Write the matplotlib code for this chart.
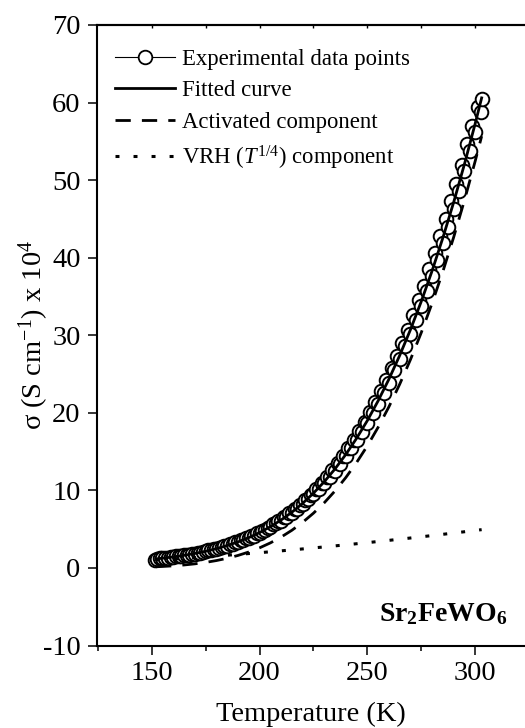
import matplotlib
matplotlib.use('Agg')
import matplotlib.pyplot as plt
from matplotlib.ticker import MultipleLocator
from matplotlib.lines import Line2D

plt.rcParams['font.family'] = ['Liberation Serif', 'DejaVu Serif']
plt.rcParams['mathtext.fontset'] = 'custom'
plt.rcParams['mathtext.rm'] = 'Liberation Serif'
plt.rcParams['mathtext.it'] = 'Liberation Serif:italic'
plt.rcParams['mathtext.bf'] = 'Liberation Serif:bold'
plt.rcParams['axes.unicode_minus'] = False

# ---------------- data ----------------
T_exp = [151.5, 152.5, 153.75, 155, 156.25, 157.5, 158.75, 160, 161.25, 162.5,
         163.75, 165, 166.25, 167.5, 168.75, 170, 171.25, 172.5, 173.75, 175,
         176.25, 177.5, 178.75, 180, 181.25, 182.5, 183.75, 185, 186.25, 187.5,
         188.75, 190, 191.25, 192.5, 193.75, 195, 196.25, 197.5, 198.75, 200,
         201.25, 202.5, 203.75, 205, 206.25, 207.5, 208.75, 210, 211.25, 212.5,
         213.75, 215, 216.25, 217.5, 218.75, 220, 221.25, 222.5, 223.75, 225,
         226.25, 227.5, 228.75, 230, 231.25, 232.5, 233.75, 235, 236.25, 237.5,
         238.75, 240, 241.25, 242.5, 243.75, 245, 246.25, 247.5, 248.75,
         250, 251.25, 252.5, 253.75, 255, 256.25, 257.5,
         258.75, 260, 261.25, 262.5, 263.75, 265, 266.25, 267.5, 268.75, 270,
         271.25, 272.5, 273.75, 275, 276.25, 277.5, 278.75, 280, 281.25, 282.5,
         283.75, 285, 286.25, 287.5, 288.75, 290, 291.25, 292.5, 293.75, 295,
         296.25, 297.5, 298.75, 300, 301.25, 302.5, 303.0]
s_exp = [1.02, 1.15, 1.23, 1.22, 1.31, 1.33, 1.40, 1.40, 1.49, 1.50,
         1.59, 1.61, 1.70, 1.72, 1.82, 1.85, 1.96, 1.98, 2.10, 2.13,
         2.26, 2.29, 2.44, 2.46, 2.62, 2.65, 2.83, 2.86, 3.05, 3.08,
         3.28, 3.32, 3.55, 3.58, 3.82, 3.86, 4.13, 4.17, 4.46, 4.50,
         4.82, 4.86, 5.20, 5.24, 5.62, 5.85, 6.05, 6.10, 6.53, 6.58,
         7.03, 7.08, 7.58, 7.62, 8.15, 8.20, 8.80, 8.85, 9.45, 9.50,
         10.20, 10.20, 10.95, 10.95, 11.75, 11.75, 12.60, 12.55, 13.50, 13.45,
         14.45, 14.40, 15.45, 15.40, 16.50, 16.45, 17.60, 17.55, 18.80,
         18.70, 20.10, 20.00, 21.40, 21.10, 22.80, 22.60,
         24.20, 23.90, 25.80, 25.50, 27.30, 27.00, 29.00, 28.60, 30.70, 30.20,
         32.60, 32.00, 34.50, 33.80, 36.40, 35.70, 38.50, 37.60, 40.60, 39.70,
         42.80, 41.90, 45.00, 44.00, 47.30, 46.30, 49.50, 48.60, 52.00, 51.20,
         54.60, 53.70, 57.00, 56.20, 59.40, 58.80, 60.40]

T_fit = [152, 155, 160, 165, 170, 175, 180, 185, 190, 195, 200, 205, 210, 215,
         220, 225, 230, 235, 240, 245, 250, 255, 260, 265, 270, 275, 280, 285,
         290, 295, 300, 303]
s_act = [0.150, 0.189, 0.272, 0.382, 0.528, 0.714, 0.951, 1.247, 1.610, 2.054,
         2.589, 3.225, 3.978, 4.857, 5.88, 7.06, 8.40, 9.93, 11.65, 13.59, 15.74,
         18.14, 20.78, 23.69, 26.87, 30.34, 34.12, 38.21, 42.62, 47.37, 52.45, 55.66]
s_vrh = [1.015, 1.065, 1.152, 1.243, 1.337, 1.434, 1.534, 1.638, 1.745, 1.855,
         1.967, 2.084, 2.203, 2.325, 2.451, 2.579, 2.710, 2.844, 2.981, 3.120,
         3.263, 3.408, 3.556, 3.707, 3.860, 4.016, 4.174, 4.335, 4.499, 4.665,
         4.833, 4.936]
s_fit = [1.165, 1.254, 1.424, 1.625, 1.865, 2.148, 2.485, 2.885, 3.355, 3.909,
         4.556, 5.309, 6.181, 7.182, 8.33, 9.64, 11.11, 12.77, 14.63, 16.71, 19.00,
         21.55, 24.34, 27.40, 30.73, 34.36, 38.29, 42.55, 47.12, 52.04, 57.28, 60.60]

labels = ["Experimental data points", "Fitted curve", "Activated component",
          r"VRH ($T^{1/4}$) component"]
x_ticks = [150, 200, 250, 300]
y_ticks = [-10, 0, 10, 20, 30, 40, 50, 60, 70]

# ---------------- figure ----------------
fig = plt.figure(figsize=(5.25, 7.28), dpi=100)
L = 96.5 / 525
B = 1 - 645.5 / 728
H = 620.5 / 728
ax = fig.add_axes([L, B, 1 - L, H])

ax.plot(T_exp, s_exp, linestyle='none', marker='o', ms=9.8, mfc='white',
        mec='black', mew=1.4, zorder=3)
ax.plot(T_fit, s_fit, color='black', lw=2.0, zorder=5)
ax.plot(T_fit, s_act, color='black', lw=2.0, ls=(0, (5.5, 4)), zorder=4)
ax.plot(T_fit, s_vrh, color='black', lw=2.2, ls=(0, (1.3, 4.6)), zorder=4)

ax.set_xlim(124.4, 323.1)
ax.set_ylim(-10, 70)
ax.set_xticks(x_ticks)
ax.set_yticks(y_ticks)
ax.xaxis.set_minor_locator(MultipleLocator(25))
ax.tick_params(axis='both', which='major', direction='out', length=6.5,
               width=1.1, labelsize=20.5, pad=5)
ax.tick_params(axis='x', which='minor', direction='out', length=3.5, width=1.1)
for s in ['left', 'bottom', 'top']:
    ax.spines[s].set_linewidth(1.5)
ax.spines['right'].set_visible(False)

sec = ax.secondary_xaxis('top')
sec.set_xticks([150, 175, 200, 225, 250, 275, 300])
sec.tick_params(direction='in', length=2, width=1, labeltop=False)
sec.spines['top'].set_linewidth(1.5)

ax.set_xlabel("Temperature (K)", fontsize=20.5, labelpad=11)
ax.set_ylabel(r"σ (S cm$^{-1}$) x 10$^{4}$", fontsize=20.5)
ax.yaxis.set_label_coords((51 - 96.5) / 428.5, 0.5)

handles = [
    Line2D([], [], color='black', lw=0.8, marker='o', ms=9.8, mfc='white',
           mec='black', mew=1.3),
    Line2D([], [], color='black', lw=2.0),
    Line2D([], [], color='black', lw=2.0, ls=(0, (5.5, 4))),
    Line2D([], [], color='black', lw=2.2, ls=(0, (1.3, 4.6))),
]
ax.legend(handles, labels, loc='upper left',
          bbox_to_anchor=((115 - 96.5) / 428.5, 0.9615), borderpad=0,
          borderaxespad=0, frameon=False, fontsize=16.4, handlelength=2.65,
          handletextpad=0.3, labelspacing=0.46, numpoints=1)

ax.text(0.958, 0.04, r'$\mathbf{Sr_2FeWO_6}$', transform=ax.transAxes,
        ha='right', va='baseline', fontsize=20)

fig.savefig('out.png', dpi=100)
